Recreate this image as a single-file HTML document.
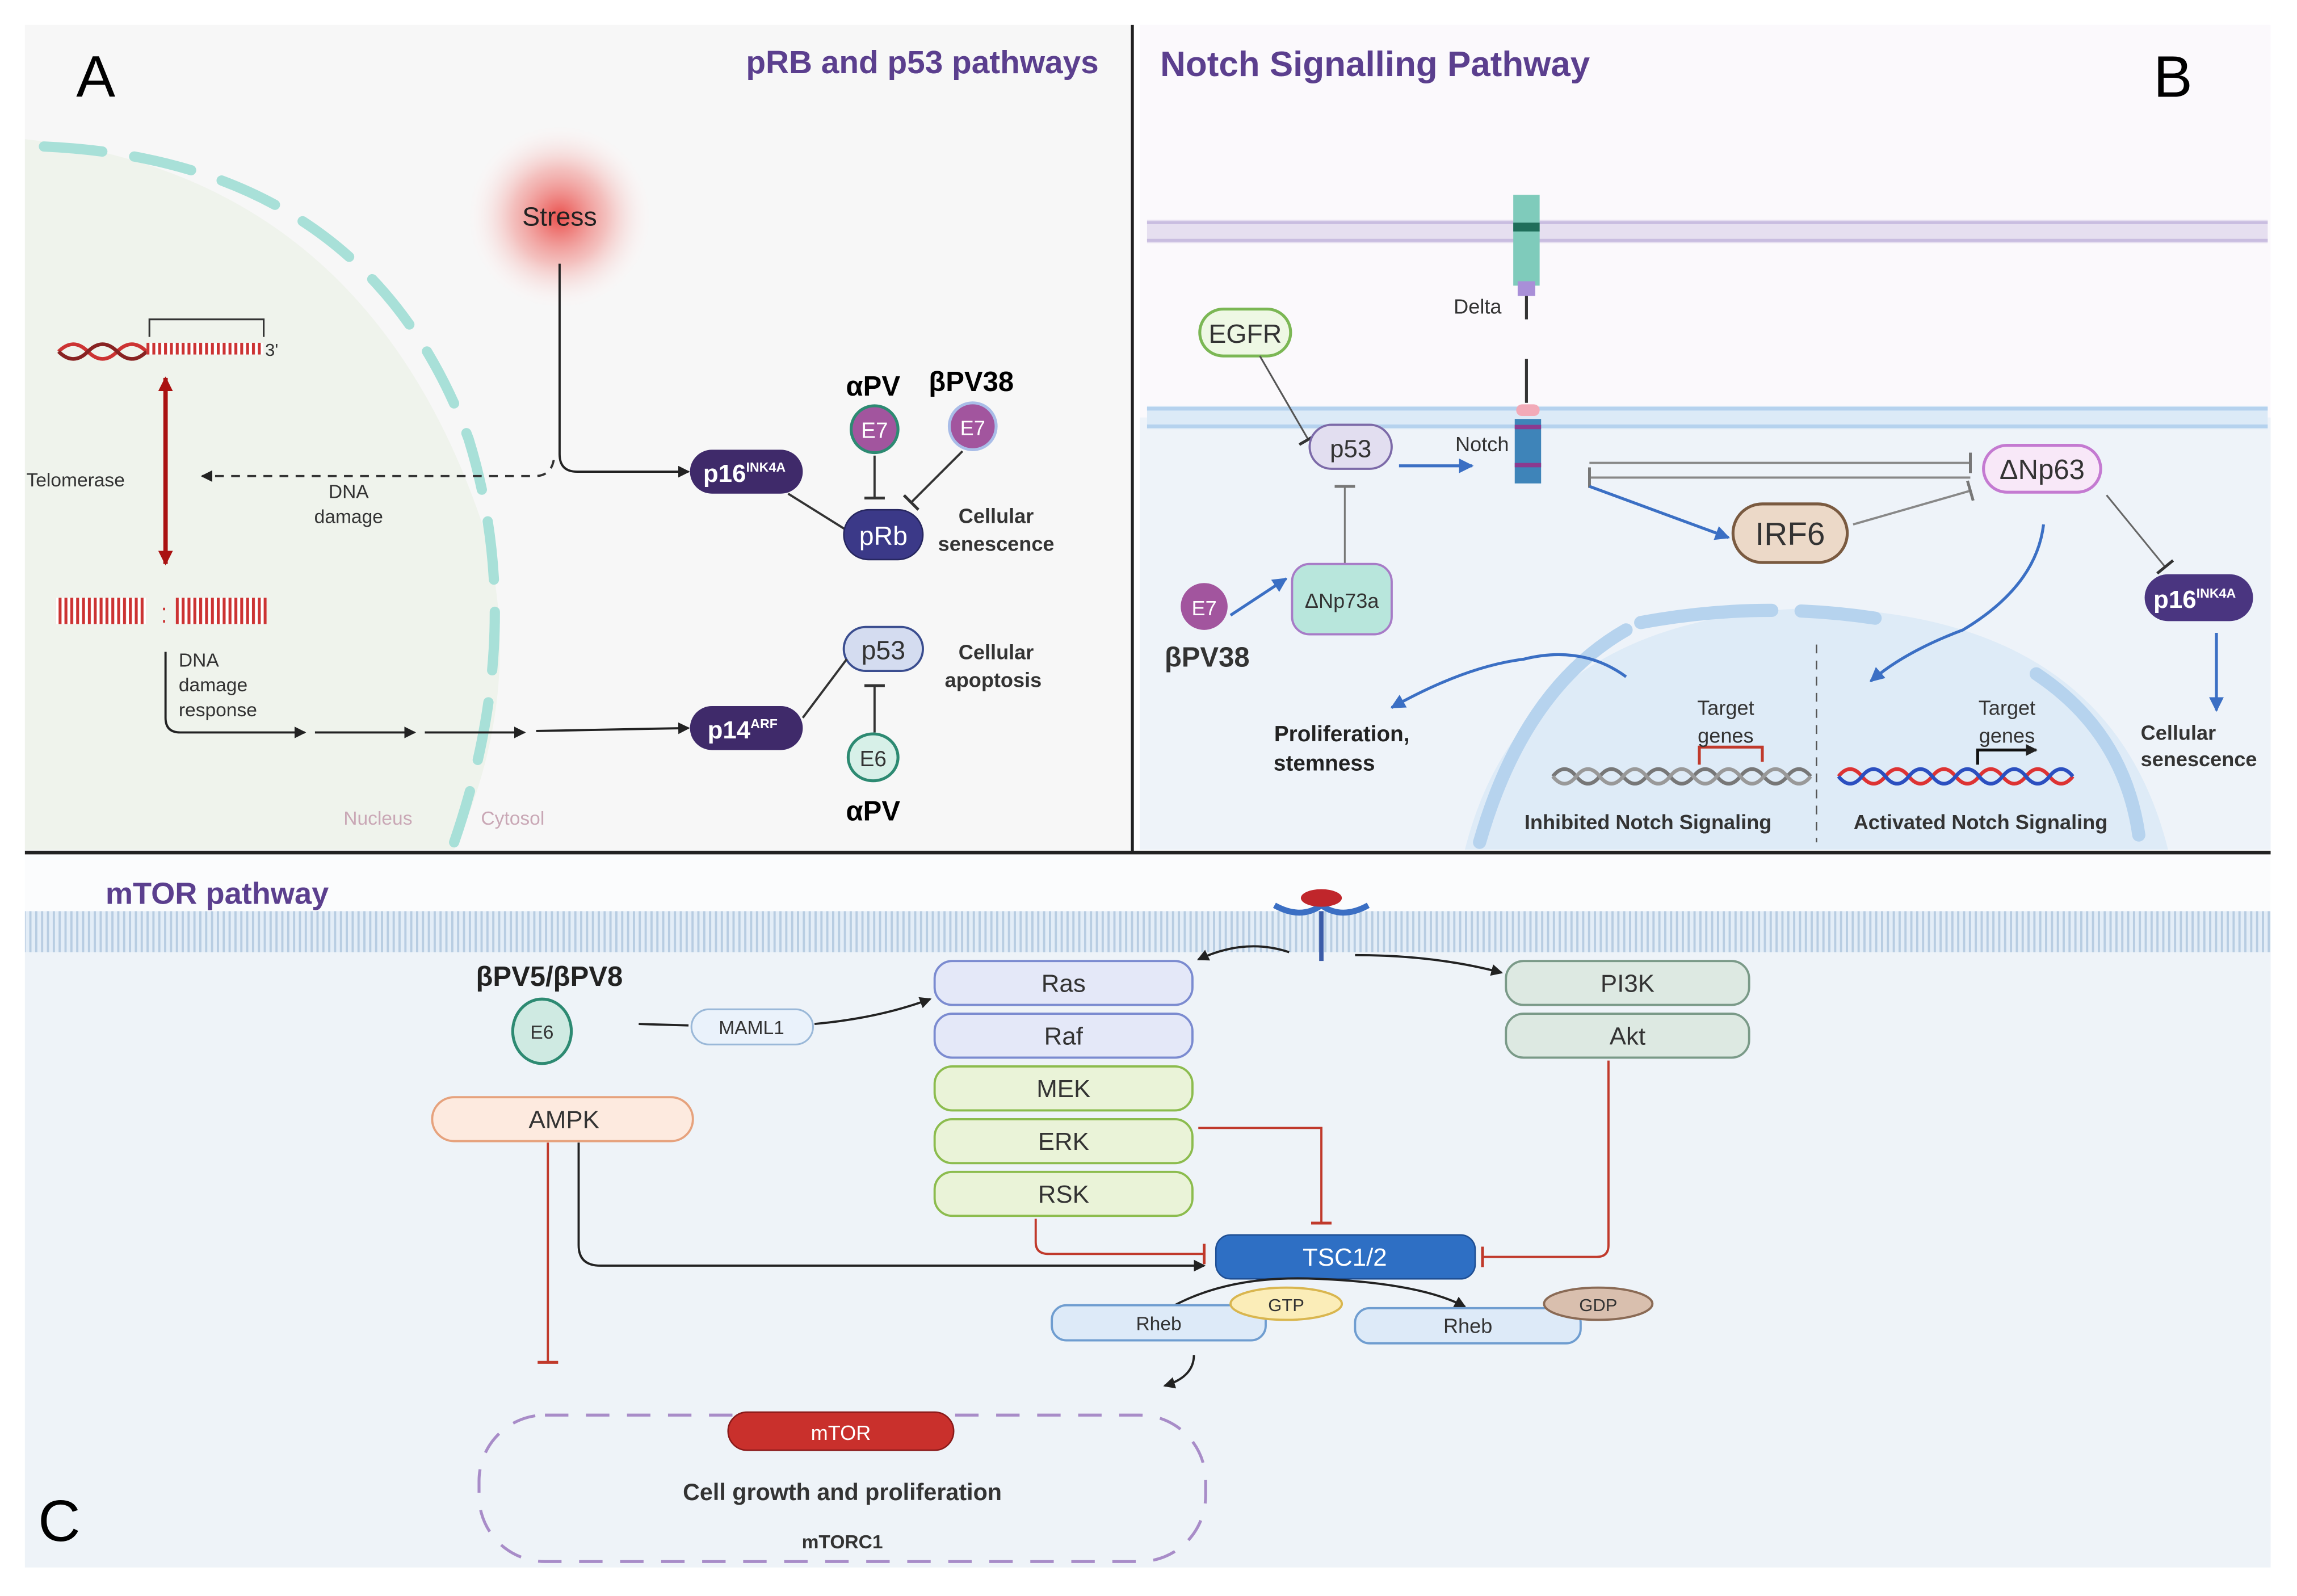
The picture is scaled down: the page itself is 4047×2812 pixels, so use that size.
<!DOCTYPE html>
<html><head><meta charset="utf-8"><style>
html,body{margin:0;padding:0;background:#fff;}
svg{display:block;font-family:"Liberation Sans",sans-serif;}
.b{font-weight:bold}
</style></head><body>
<svg width="4047" height="2812" viewBox="0 0 1568 1089.5" preserveAspectRatio="none" xmlns="http://www.w3.org/2000/svg">
<defs>
<radialGradient id="st"><stop offset="0" stop-color="#e8322e" stop-opacity="0.85"/><stop offset="0.5" stop-color="#f08a86" stop-opacity="0.5"/><stop offset="1" stop-color="#fff" stop-opacity="0"/></radialGradient>
<marker id="ak" markerWidth="8" markerHeight="8" refX="7" refY="4" orient="auto" markerUnits="userSpaceOnUse"><path d="M0,0 L8,4 L0,8z" fill="#222"/></marker>
<marker id="ab" markerWidth="10" markerHeight="10" refX="9" refY="5" orient="auto" markerUnits="userSpaceOnUse"><path d="M0,0 L10,5 L0,10z" fill="#3b6fc4"/></marker>
<marker id="ar" markerWidth="10" markerHeight="10" refX="9" refY="5" orient="auto-start-reverse" markerUnits="userSpaceOnUse"><path d="M0,0 L10,5 L0,10z" fill="#a11"/></marker>
<marker id="tk" markerWidth="2" markerHeight="14" refX="1" refY="7" orient="auto" markerUnits="userSpaceOnUse"><rect x="0" y="0" width="2" height="14" fill="#333"/></marker>
<marker id="tg" markerWidth="2" markerHeight="14" refX="1" refY="7" orient="auto" markerUnits="userSpaceOnUse"><rect x="0" y="0" width="2" height="14" fill="#777"/></marker>
<marker id="tr" markerWidth="2" markerHeight="14" refX="1" refY="7" orient="auto" markerUnits="userSpaceOnUse"><rect x="0" y="0" width="2" height="14" fill="#c0392b"/></marker>
<pattern id="mem" width="4" height="30" patternUnits="userSpaceOnUse"><rect width="4" height="30" fill="#e3edf7"/><rect x="0" y="0" width="1.5" height="30" fill="#b8cde2"/></pattern>
<pattern id="dna" width="4" height="14" patternUnits="userSpaceOnUse"><rect width="4" height="14" fill="#fff"/><rect width="2" height="14" fill="#c33"/></pattern>
</defs>

<!-- Panel A -->
<rect x="17" y="17" width="756" height="564" fill="#f7f7f7"/>
<path d="M17,95 Q250,120 330,360 Q360,470 310,580 L17,580z" fill="#eff3ec"/>
<path d="M30,100 Q250,110 320,300 Q360,430 310,575" fill="none" stroke="#a8e0d8" stroke-width="7" stroke-dasharray="40,22" stroke-linecap="round"/>
<text x="52" y="66" font-size="40" font-family="Liberation Sans">A</text>
<text x="750" y="50" font-size="22" class="b" fill="#5b3f8e" text-anchor="end">pRB and p53 pathways</text>
<circle cx="382" cy="148" r="65" fill="url(#st)"/>
<text x="382" y="154" font-size="18" text-anchor="middle" fill="#222">Stress</text>
<path d="M382,180 L382,310 Q382,322 394,322 L470,322" fill="none" stroke="#222" stroke-width="1.5" marker-end="url(#ak)"/>
<path d="M378,314 Q376,325 365,325 L138,325" fill="none" stroke="#333" stroke-width="1.5" stroke-dasharray="6,5" marker-end="url(#ak)"/>
<text x="238" y="340" font-size="13" text-anchor="middle" fill="#333">DNA</text>
<text x="238" y="357" font-size="13" text-anchor="middle" fill="#333">damage</text>
<text x="18" y="332" font-size="13" fill="#333">Telomerase</text>
<path d="M40,240 q10,-10 20,0 t20,0 t20,0" fill="none" stroke="#c33" stroke-width="2.5"/>
<path d="M40,240 q10,10 20,0 t20,0 t20,0" fill="none" stroke="#822" stroke-width="2.5"/>
<rect x="100" y="234" width="80" height="8" fill="url(#dna)"/>
<text x="181" y="243" font-size="12" fill="#333">3'</text>
<path d="M102,230 L102,218 L180,218 L180,230" fill="none" stroke="#333" stroke-width="1.2"/>
<line x1="113" y1="258" x2="113" y2="385" stroke="#a11" stroke-width="3" marker-end="url(#ar)" marker-start="url(#ar)"/>
<rect x="38" y="408" width="62" height="18" fill="url(#dna)"/>
<rect x="120" y="408" width="62" height="18" fill="url(#dna)"/>
<text x="112" y="425" font-size="14" fill="#c33" text-anchor="middle">⁚</text>
<text x="122" y="455" font-size="13" fill="#333">DNA</text>
<text x="122" y="472" font-size="13" fill="#333">damage</text>
<text x="122" y="489" font-size="13" fill="#333">response</text>
<path d="M113,445 L113,490 Q113,500 123,500 L208,500" fill="none" stroke="#222" stroke-width="1.5" marker-end="url(#ak)"/>
<line x1="215" y1="500" x2="283" y2="500" stroke="#222" stroke-width="1.5" marker-end="url(#ak)"/>
<line x1="290" y1="500" x2="358" y2="500" stroke="#222" stroke-width="1.5" marker-end="url(#ak)"/>
<line x1="366" y1="499" x2="470" y2="497" stroke="#222" stroke-width="1.5" marker-end="url(#ak)"/>
<text x="258" y="563" font-size="13" fill="#c9a7b5" text-anchor="middle">Nucleus</text>
<text x="350" y="563" font-size="13" fill="#c9a7b5" text-anchor="middle">Cytosol</text>
<rect x="471" y="307" width="77" height="30" rx="15" fill="#3f2a6a"/>
<text x="480" y="329" font-size="17" fill="#fff" class="b">p16<tspan font-size="9" dy="-7">INK4A</tspan></text>
<rect x="471" y="482" width="77" height="30" rx="15" fill="#3f2a6a"/>
<text x="483" y="504" font-size="17" fill="#fff" class="b">p14<tspan font-size="9" dy="-7">ARF</tspan></text>
<line x1="538" y1="337" x2="578" y2="362" stroke="#333" stroke-width="1.5"/>
<rect x="576" y="348" width="54" height="34" rx="17" fill="#3b3988" stroke="#272760"/>
<text x="603" y="372" font-size="18" fill="#fff" text-anchor="middle">pRb</text>
<text x="596" y="270" font-size="19" class="b" text-anchor="middle">αPV</text>
<text x="663" y="267" font-size="19" class="b" text-anchor="middle">βPV38</text>
<circle cx="597" cy="293" r="16" fill="#a2559e" stroke="#2d8a72" stroke-width="2"/>
<text x="597" y="299" font-size="15" fill="#fff" text-anchor="middle">E7</text>
<circle cx="664" cy="291" r="16" fill="#a2559e" stroke="#a9bde8" stroke-width="2"/>
<text x="664" y="297" font-size="14" fill="#fff" text-anchor="middle">E7</text>
<line x1="597" y1="311" x2="597" y2="340" stroke="#333" stroke-width="1.5" marker-end="url(#tk)"/>
<line x1="657" y1="308" x2="622" y2="343" stroke="#333" stroke-width="1.5" marker-end="url(#tk)"/>
<text x="680" y="357" font-size="14" class="b" fill="#333" text-anchor="middle">Cellular</text>
<text x="680" y="376" font-size="14" class="b" fill="#333" text-anchor="middle">senescence</text>
<rect x="576" y="428" width="54" height="30" rx="15" fill="#d4dcf0" stroke="#3a4d8f" stroke-width="1.5"/>
<text x="603" y="450" font-size="18" fill="#333" text-anchor="middle">p53</text>
<line x1="548" y1="490" x2="578" y2="450" stroke="#333" stroke-width="1.5"/>
<text x="680" y="450" font-size="14" class="b" fill="#333" text-anchor="middle">Cellular</text>
<text x="678" y="469" font-size="14" class="b" fill="#333" text-anchor="middle">apoptosis</text>
<line x1="597" y1="500" x2="597" y2="468" stroke="#333" stroke-width="1.5" marker-end="url(#tk)"/>
<ellipse cx="596" cy="517" rx="17" ry="16" fill="#d7f0e8" stroke="#2d8a72" stroke-width="2"/>
<text x="596" y="523" font-size="15" fill="#333" text-anchor="middle">E6</text>
<text x="596" y="560" font-size="19" class="b" text-anchor="middle">αPV</text>
<line x1="773" y1="17" x2="773" y2="582" stroke="#222" stroke-width="2"/>

<!-- Panel B -->
<rect x="778" y="17" width="772" height="563" fill="#fbf9fc"/>
<rect x="778" y="285" width="772" height="295" fill="#eef3f9"/>
<path d="M1000,580 Q1040,420 1240,415 Q1440,420 1480,580z" fill="#deebf7"/>
<path d="M1010,575 Q1040,470 1110,430" fill="none" stroke="#b6d3ee" stroke-width="9" stroke-linecap="round"/>
<path d="M1120,425 Q1200,410 1280,422" fill="none" stroke="#b6d3ee" stroke-width="9" stroke-linecap="round" stroke-dasharray="90,20"/>
<path d="M1390,460 Q1450,500 1460,570" fill="none" stroke="#b6d3ee" stroke-width="9" stroke-linecap="round"/>
<rect x="783" y="150" width="765" height="16" fill="#e6dff0"/>
<line x1="783" y1="152" x2="1548" y2="152" stroke="#c9bde0" stroke-width="2"/>
<line x1="783" y1="164" x2="1548" y2="164" stroke="#c9bde0" stroke-width="2"/>
<rect x="783" y="277" width="765" height="16" fill="#dceaf7"/>
<line x1="783" y1="279" x2="1548" y2="279" stroke="#b5d2ee" stroke-width="2.5"/>
<line x1="783" y1="291" x2="1548" y2="291" stroke="#b5d2ee" stroke-width="2.5"/>
<text x="792" y="52" font-size="24" class="b" fill="#5b3f8e">Notch Signalling Pathway</text>
<text x="1470" y="66" font-size="40">B</text>
<rect x="1033" y="133" width="18" height="62" fill="#7fcbbb"/>
<rect x="1033" y="152" width="18" height="6" fill="#1f6e5a"/>
<rect x="1036" y="192" width="12" height="10" fill="#a98fd8"/>
<line x1="1042" y1="202" x2="1042" y2="218" stroke="#333" stroke-width="2"/>
<text x="1025" y="214" font-size="14" text-anchor="end" fill="#333">Delta</text>
<line x1="1042" y1="245" x2="1042" y2="275" stroke="#333" stroke-width="2"/>
<rect x="1035" y="276" width="16" height="8" rx="4" fill="#f2aab8"/>
<rect x="1034" y="286" width="18" height="44" fill="#3e84b9"/>
<rect x="1034" y="290" width="18" height="3" fill="#8b3a8f"/>
<rect x="1034" y="316" width="18" height="3" fill="#8b3a8f"/>
<text x="1030" y="308" font-size="14" text-anchor="end" fill="#333">Notch</text>
<rect x="819" y="211" width="62" height="32" rx="16" fill="#eef8e4" stroke="#7bb754" stroke-width="2"/>
<text x="850" y="234" font-size="18" text-anchor="middle" fill="#333">EGFR</text>
<line x1="860" y1="243" x2="893" y2="300" stroke="#555" stroke-width="1.2" marker-end="url(#tk)"/>
<rect x="894" y="290" width="56" height="30" rx="15" fill="#e2def0" stroke="#7c6aa8" stroke-width="1.5"/>
<text x="922" y="312" font-size="17" text-anchor="middle" fill="#333">p53</text>
<line x1="955" y1="318" x2="1005" y2="318" stroke="#3b6fc4" stroke-width="2" marker-end="url(#ab)"/>
<line x1="918" y1="385" x2="918" y2="332" stroke="#777" stroke-width="1.2" marker-end="url(#tg)"/>
<rect x="882" y="385" width="68" height="48" rx="12" fill="#b8e6dc" stroke="#a77bc7" stroke-width="1.5"/>
<text x="916" y="415" font-size="14" text-anchor="middle" fill="#333">ΔNp73a</text>
<circle cx="822" cy="414" r="16" fill="#a2559e"/>
<text x="822" y="420" font-size="14" fill="#fff" text-anchor="middle">E7</text>
<line x1="840" y1="420" x2="878" y2="395" stroke="#3b6fc4" stroke-width="2" marker-end="url(#ab)"/>
<text x="824" y="455" font-size="19" class="b" text-anchor="middle" fill="#333">βPV38</text>
<line x1="1085" y1="316" x2="1345" y2="316" stroke="#888" stroke-width="1.5" marker-end="url(#tg)"/>
<line x1="1345" y1="326" x2="1085" y2="326" stroke="#888" stroke-width="1.5" marker-end="url(#tg)"/>
<line x1="1085" y1="332" x2="1180" y2="367" stroke="#3b6fc4" stroke-width="2" marker-end="url(#ab)"/>
<rect x="1183" y="344" width="78" height="40" rx="20" fill="#ecd9c8" stroke="#7a5a40" stroke-width="2"/>
<text x="1222" y="372" font-size="22" text-anchor="middle" fill="#333">IRF6</text>
<line x1="1265" y1="358" x2="1345" y2="335" stroke="#888" stroke-width="1.5" marker-end="url(#tg)"/>
<rect x="1354" y="304" width="80" height="32" rx="16" fill="#f8e8f8" stroke="#c47ad1" stroke-width="2"/>
<text x="1394" y="327" font-size="19" text-anchor="middle" fill="#333">ΔNp63</text>
<line x1="1438" y1="338" x2="1478" y2="387" stroke="#666" stroke-width="1.2" marker-end="url(#tk)"/>
<rect x="1464" y="392" width="74" height="32" rx="16" fill="#4a3580"/>
<text x="1470" y="415" font-size="17" fill="#fff" class="b">p16<tspan font-size="9" dy="-7">INK4A</tspan></text>
<line x1="1513" y1="432" x2="1513" y2="485" stroke="#3b6fc4" stroke-width="2" marker-end="url(#ab)"/>
<text x="1487" y="505" font-size="14" class="b" fill="#333" text-anchor="middle">Cellular</text>
<text x="1501" y="523" font-size="14" class="b" fill="#333" text-anchor="middle">senescence</text>
<path d="M1395,358 Q1390,400 1340,430 Q1300,445 1277,465" fill="none" stroke="#3b6fc4" stroke-width="2" marker-end="url(#ab)"/>
<path d="M1110,462 Q1080,440 1040,450 Q1000,455 950,483" fill="none" stroke="#3b6fc4" stroke-width="2" marker-end="url(#ab)"/>
<text x="916" y="506" font-size="15" class="b" fill="#222" text-anchor="middle">Proliferation,</text>
<text x="904" y="526" font-size="15" class="b" fill="#222" text-anchor="middle">stemness</text>
<line x1="1240" y1="440" x2="1240" y2="575" stroke="#555" stroke-width="1" stroke-dasharray="6,5"/>
<path d="M1060,530 q8,-10 16,0 t16,0 t16,0 t16,0 t16,0 t16,0 t16,0 t16,0 t16,0 t16,0 t16,0" fill="none" stroke="#777" stroke-width="2.5"/>
<path d="M1060,530 q8,10 16,0 t16,0 t16,0 t16,0 t16,0 t16,0 t16,0 t16,0 t16,0 t16,0 t16,0" fill="none" stroke="#999" stroke-width="2.5"/>
<path d="M1160,522 L1160,510 L1203,510 L1203,520" fill="none" stroke="#c0392b" stroke-width="2"/>
<text x="1178" y="488" font-size="14" text-anchor="middle" fill="#333">Target</text>
<text x="1178" y="507" font-size="14" text-anchor="middle" fill="#333">genes</text>
<text x="1125" y="566" font-size="14" class="b" text-anchor="middle" fill="#333">Inhibited Notch Signaling</text>
<path d="M1255,530 q8,-10 16,0 t16,0 t16,0 t16,0 t16,0 t16,0 t16,0 t16,0 t16,0 t16,0" fill="none" stroke="#d33" stroke-width="2.5"/>
<path d="M1255,530 q8,10 16,0 t16,0 t16,0 t16,0 t16,0 t16,0 t16,0 t16,0 t16,0 t16,0" fill="none" stroke="#2b4fc0" stroke-width="2.5"/>
<path d="M1350,522 L1350,512 L1390,512" fill="none" stroke="#111" stroke-width="2" marker-end="url(#ak)"/>
<text x="1370" y="488" font-size="14" text-anchor="middle" fill="#333">Target</text>
<text x="1370" y="507" font-size="14" text-anchor="middle" fill="#333">genes</text>
<text x="1352" y="566" font-size="14" class="b" text-anchor="middle" fill="#333">Activated Notch Signaling</text>
<line x1="17" y1="582" x2="1550" y2="582" stroke="#222" stroke-width="2.5"/>

<!-- Panel C -->
<rect x="17" y="584" width="1533" height="486" fill="#fbfcfd"/>
<rect x="17" y="650" width="1533" height="420" fill="#eef3f8"/>
<rect x="17" y="622" width="1533" height="28" fill="url(#mem)"/>
<text x="72" y="617" font-size="21" class="b" fill="#5b3f8e">mTOR pathway</text>
<text x="26" y="1052" font-size="40">C</text>
<path d="M870,618 Q888,628 902,618 Q916,628 934,618" fill="none" stroke="#3b6fc4" stroke-width="4"/>
<ellipse cx="902" cy="613" rx="14" ry="6" fill="#c0262b"/>
<line x1="902" y1="622" x2="902" y2="656" stroke="#3b5ba8" stroke-width="3"/>
<path d="M880,650 Q850,640 818,655" fill="none" stroke="#222" stroke-width="1.5" marker-end="url(#ak)"/>
<path d="M925,652 Q980,652 1025,664" fill="none" stroke="#222" stroke-width="1.5" marker-end="url(#ak)"/>
<g font-size="17" fill="#333" text-anchor="middle">
<rect x="638" y="656" width="176" height="30" rx="12" fill="#e4e8f8" stroke="#7b8bd0" stroke-width="1.5"/><text x="726" y="677">Ras</text>
<rect x="638" y="692" width="176" height="30" rx="12" fill="#e4e8f8" stroke="#7b8bd0" stroke-width="1.5"/><text x="726" y="713">Raf</text>
<rect x="638" y="728" width="176" height="30" rx="12" fill="#eaf3d8" stroke="#8cbc4e" stroke-width="1.5"/><text x="726" y="749">MEK</text>
<rect x="638" y="764" width="176" height="30" rx="12" fill="#eaf3d8" stroke="#8cbc4e" stroke-width="1.5"/><text x="726" y="785">ERK</text>
<rect x="638" y="800" width="176" height="30" rx="12" fill="#eaf3d8" stroke="#8cbc4e" stroke-width="1.5"/><text x="726" y="821">RSK</text>
<rect x="1028" y="656" width="166" height="30" rx="12" fill="#dde9e2" stroke="#7a9a88" stroke-width="1.5"/><text x="1111" y="677">PI3K</text>
<rect x="1028" y="692" width="166" height="30" rx="12" fill="#dde9e2" stroke="#7a9a88" stroke-width="1.5"/><text x="1111" y="713">Akt</text>
<rect x="295" y="749" width="178" height="30" rx="15" fill="#fdeadf" stroke="#e6a27d" stroke-width="1.5"/><text x="385" y="770">AMPK</text>
</g>
<text x="375" y="673" font-size="19" class="b" text-anchor="middle" fill="#222">βPV5/βPV8</text>
<ellipse cx="370" cy="704" rx="20" ry="22" fill="#cfeae2" stroke="#2d8a72" stroke-width="2"/>
<text x="370" y="709" font-size="13" text-anchor="middle" fill="#333">E6</text>
<line x1="436" y1="699" x2="470" y2="700" stroke="#222" stroke-width="1.5"/>
<rect x="472" y="689" width="83" height="24" rx="12" fill="#eaf2fb" stroke="#9ab8d8" stroke-width="1.2"/>
<text x="513" y="706" font-size="13" text-anchor="middle" fill="#333">MAML1</text>
<path d="M556,699 Q600,695 635,682" fill="none" stroke="#222" stroke-width="1.5" marker-end="url(#ak)"/>
<path d="M818,770 L902,770 L902,835" fill="none" stroke="#c0392b" stroke-width="1.5" marker-end="url(#tr)"/>
<path d="M707,832 L707,848 Q707,856 716,856 L822,856" fill="none" stroke="#c0392b" stroke-width="1.5" marker-end="url(#tr)"/>
<path d="M1098,724 L1098,850 Q1098,858 1090,858 L1012,858" fill="none" stroke="#c0392b" stroke-width="1.5" marker-end="url(#tr)"/>
<path d="M395,780 L395,850 Q395,864 410,864 L822,864" fill="none" stroke="#222" stroke-width="1.5" marker-end="url(#ak)"/>
<line x1="374" y1="780" x2="374" y2="930" stroke="#c0392b" stroke-width="1.5" marker-end="url(#tr)"/>
<rect x="830" y="843" width="177" height="30" rx="10" fill="#2e6fc4" stroke="#1f4f94"/>
<text x="918" y="864" font-size="17" fill="#fff" text-anchor="middle">TSC1/2</text>
<path d="M800,892 Q840,870 900,873 Q970,876 1000,892" fill="none" stroke="#222" stroke-width="1.5" marker-end="url(#ak)"/>
<rect x="718" y="891" width="146" height="24" rx="10" fill="#ddeaf8" stroke="#6f9dd0" stroke-width="1.5"/>
<text x="791" y="908" font-size="13" text-anchor="middle" fill="#333">Rheb</text>
<ellipse cx="878" cy="890" rx="38" ry="11" fill="#fbedb8" stroke="#d9b64f" stroke-width="1.5"/>
<text x="878" y="895" font-size="12" text-anchor="middle" fill="#333">GTP</text>
<rect x="925" y="893" width="154" height="24" rx="10" fill="#ddeaf8" stroke="#6f9dd0" stroke-width="1.5"/>
<text x="1002" y="910" font-size="14" text-anchor="middle" fill="#333">Rheb</text>
<ellipse cx="1091" cy="890" rx="37" ry="11" fill="#d9bfae" stroke="#8a6a55" stroke-width="1.5"/>
<text x="1091" y="895" font-size="12" text-anchor="middle" fill="#333">GDP</text>
<path d="M815,925 Q815,940 795,946" fill="none" stroke="#222" stroke-width="1.5" marker-end="url(#ak)"/>
<rect x="327" y="966" width="496" height="100" rx="45" fill="none" stroke="#a88cc8" stroke-width="2" stroke-dasharray="16,12"/>
<rect x="497" y="964" width="154" height="26" rx="13" fill="#c9302c" stroke="#8a1a1a"/>
<text x="574" y="983" font-size="14" fill="#fff" text-anchor="middle">mTOR</text>
<text x="575" y="1024" font-size="16" class="b" fill="#333" text-anchor="middle">Cell growth and proliferation</text>
<text x="575" y="1057" font-size="13" class="b" fill="#333" text-anchor="middle">mTORC1</text>
</svg>
</body></html>
